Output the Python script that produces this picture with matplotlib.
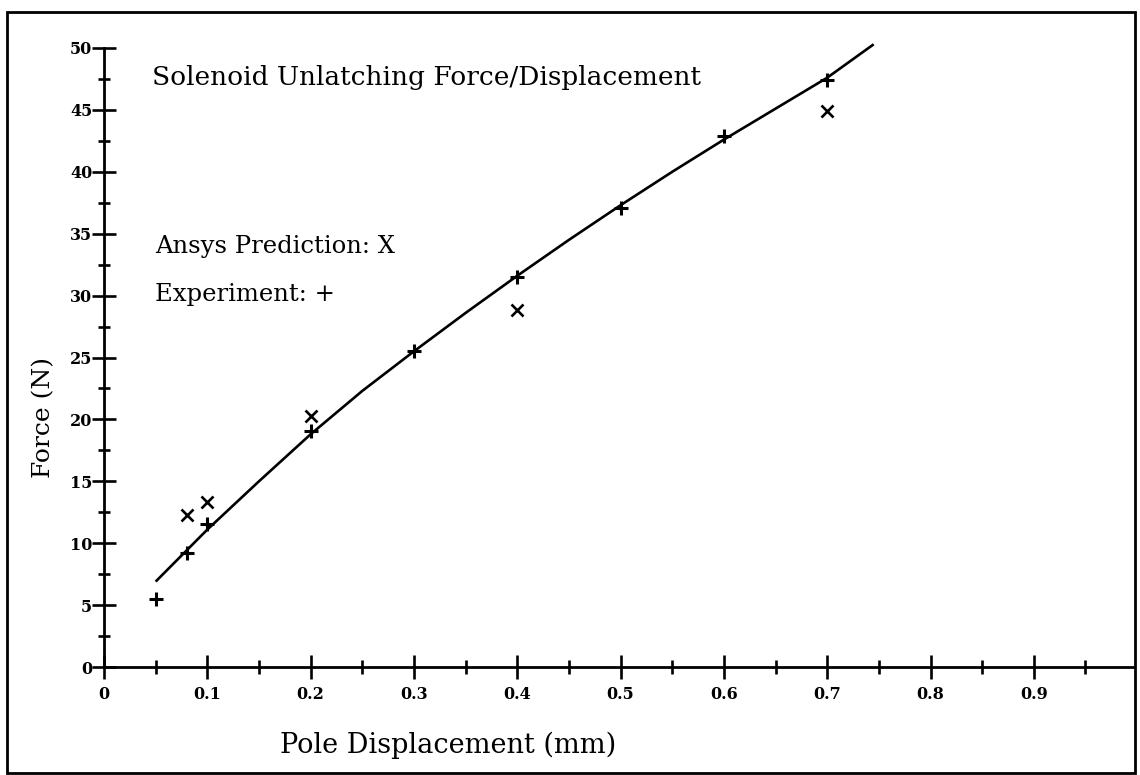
import matplotlib
matplotlib.use("Agg")
import matplotlib.pyplot as plt
from matplotlib.patches import Rectangle
from matplotlib.ticker import MultipleLocator

# Data
exp_x = [0.05, 0.08, 0.10, 0.20, 0.30, 0.40, 0.50, 0.60, 0.70]
exp_y = [5.5, 9.2, 11.55, 19.1, 25.5, 31.5, 37.1, 42.9, 47.4]

ansys_x = [0.08, 0.10, 0.20, 0.40, 0.70]
ansys_y = [12.3, 13.3, 20.3, 28.8, 44.9]

fit_x = [0.05, 0.10, 0.15, 0.20, 0.25, 0.30, 0.35, 0.40, 0.45, 0.50, 0.55, 0.60, 0.65, 0.70, 0.745]
fit_y = [6.9, 11.1, 15.0, 18.8, 22.3, 25.5, 28.6, 31.6, 34.5, 37.3, 40.0, 42.6, 45.1, 47.6, 50.3]

xticks = [0, 0.1, 0.2, 0.3, 0.4, 0.5, 0.6, 0.7, 0.8, 0.9]
xticklabels = ["0", "0.1", "0.2", "0.3", "0.4", "0.5", "0.6", "0.7", "0.8", "0.9"]
yticks = [0, 5, 10, 15, 20, 25, 30, 35, 40, 45, 50]

W, H = 1140, 775
fig = plt.figure(figsize=(W / 100, H / 100), dpi=100)
serif = ["DejaVu Serif"]

def fx(px):
    return px / W

def fy(py):
    return 1 - py / H

left, right, top, bottom = 104, 1133, 48, 667
ax = fig.add_axes([fx(left), fy(bottom), (right - left) / W, (bottom - top) / H])
ax.set_xlim(0, 0.996)
ax.set_ylim(0, 50)
ax.patch.set_alpha(0)
for s in ["top", "right"]:
    ax.spines[s].set_visible(False)
for s in ["left", "bottom"]:
    ax.spines[s].set_linewidth(2.0)
    ax.spines[s].set_clip_on(False)

ax.set_xticks(xticks)
ax.set_xticklabels(xticklabels)
ax.xaxis.set_minor_locator(MultipleLocator(0.05))
ax.set_yticks(yticks)
ax.yaxis.set_minor_locator(MultipleLocator(2.5))
ax.tick_params(axis="x", which="major", direction="inout", length=17, width=1.9, pad=5)
ax.tick_params(axis="x", which="minor", direction="inout", length=10, width=1.9)
ax.tick_params(axis="y", which="major", direction="inout", length=17, width=1.9, pad=0)
ax.tick_params(axis="y", which="minor", direction="inout", length=9, width=1.9)
for lab in ax.get_xticklabels() + ax.get_yticklabels():
    lab.set_family(serif)
    lab.set_fontsize(11.5)
    lab.set_fontweight("bold")

ax.plot(fit_x, fit_y, color="black", lw=1.9, solid_capstyle="butt", clip_on=False)
ax.plot(exp_x, exp_y, linestyle="none", marker="+", markersize=10, mew=2.2, color="black", clip_on=False)
ax.plot(ansys_x, ansys_y, linestyle="none", marker="x", markersize=8.5, mew=1.9, color="black", clip_on=False)

fig.text(fx(152), fy(78), "Solenoid Unlatching Force/Displacement", family=serif, fontsize=19,
         va="center", ha="left")
fig.text(fx(155), fy(247), "Ansys Prediction: X", family=serif, fontsize=17.5, va="center", ha="left")
fig.text(fx(155), fy(295), "Experiment: +", family=serif, fontsize=17.5, va="center", ha="left")
fig.text(fx(448), fy(745), "Pole Displacement (mm)", family=serif, fontsize=19.5, va="center", ha="center")
fig.text(fx(44), fy(418), "Force (N)", family=serif, fontsize=18, va="center", ha="center", rotation=90)

fig.patches.append(Rectangle((fx(7), fy(773)), (1135 - 7) / W, (773 - 12) / H,
                             transform=fig.transFigure, fill=False, lw=2.0, edgecolor="black"))

fig.savefig("out.png", dpi=100)
